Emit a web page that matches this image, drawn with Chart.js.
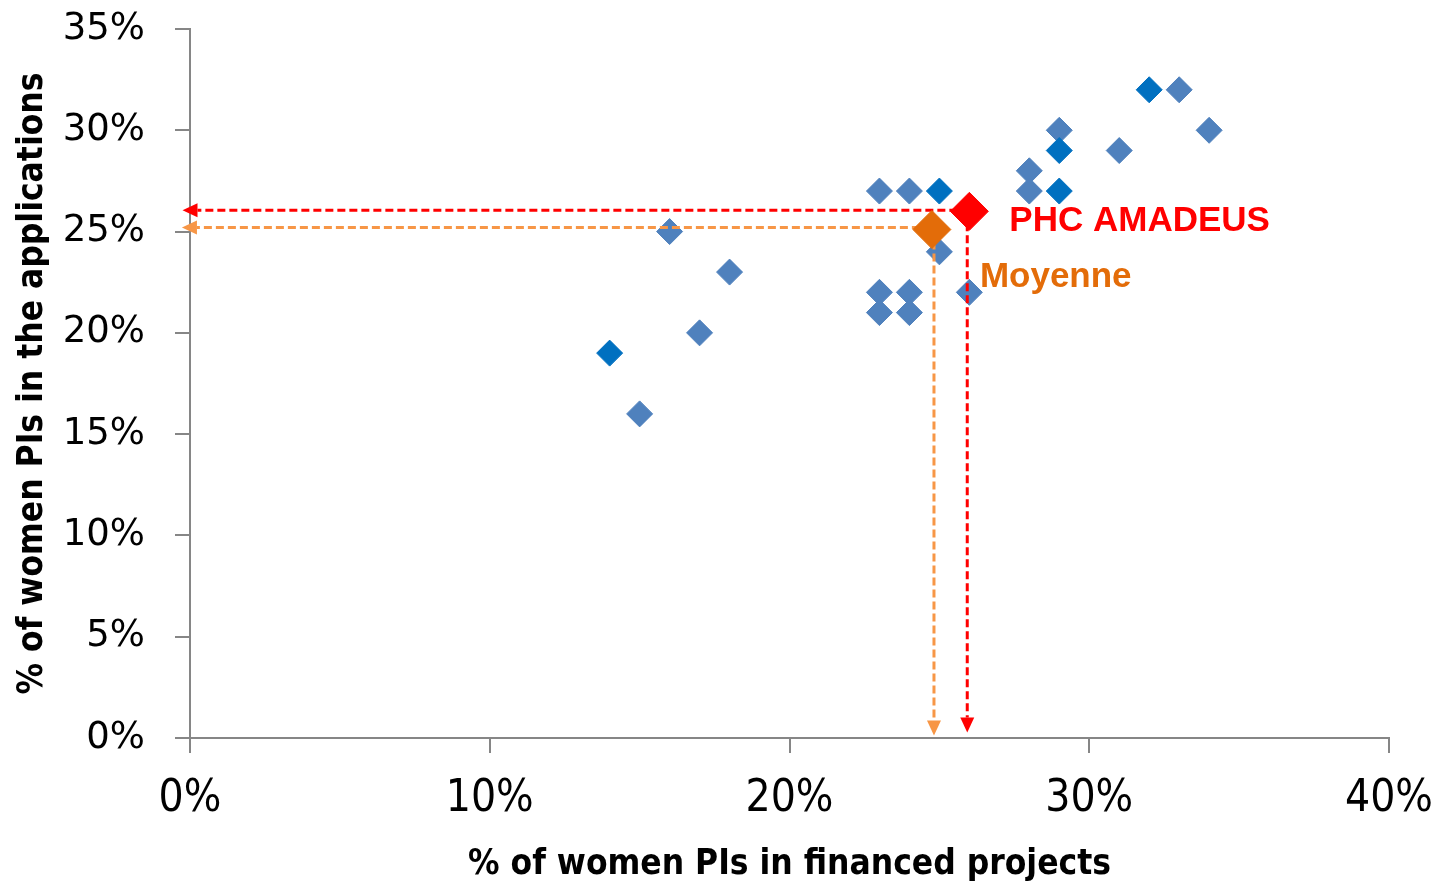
<!DOCTYPE html>
<html><head><meta charset="utf-8">
<script src="https://cdn.jsdelivr.net/npm/chart.js@4/dist/chart.umd.min.js"></script>
<style>html,body{margin:0;padding:0;background:#fff;overflow:hidden}#wrap{width:1435px;height:883px}</style>
</head><body><div id="wrap"><canvas id="c" width="1435" height="883"></canvas></div>
<script>
// ---- data ----
const xTickValues = [0, 10, 20, 30, 40];
const yTickValues = [0, 5, 10, 15, 20, 25, 30, 35];
const lightX = [15, 16, 17, 18, 23, 24, 23, 24, 23, 24, 25, 26, 28, 28, 29, 31, 33, 34];
const lightY = [16, 25, 20, 23, 27, 27, 22, 22, 21, 21, 24, 22, 28, 27, 30, 29, 32, 30];
const darkX = [14, 25, 29, 29, 32];
const darkY = [19, 27, 29, 27, 32];
const amadeusX = [26];
const amadeusY = [26];
const moyenneX = [24.75];
const moyenneY = [25.1];
// guide arrows: [fromX, fromY, toX, toY]
const redArrowH = [26, 26.05, -0.25, 26.05];
const redArrowV = [25.93, 26, 25.93, 0.27];
const orangeArrowH = [24.75, 25.2, -0.27, 25.2];
const orangeArrowV = [24.82, 25.1, 24.82, 0.12];
const xTitle = '% of women PIs in financed projects';
const yTitle = '% of women PIs in the applications';
const labelAmadeus = 'PHC AMADEUS';
const labelMoyenne = 'Moyenne';

const toPts = (xs, ys) => xs.map((x, i) => ({x, y: ys[i]}));

const BLUE = '#4F81BD', DARKBLUE = '#0070C0', RED = '#FF0000', ORANGE = '#E36C09', ORANGE_LIGHT = '#F79646', GRAY = '#868686';
const NARROW = '"Liberation Sans Narrow", "DejaVu Sans Condensed", sans-serif';

function drawArrow(ctx, chart, a, color) {
  const xs = chart.scales.x, ys = chart.scales.y;
  const x1 = xs.getPixelForValue(a[0]), y1 = ys.getPixelForValue(a[1]);
  const x2 = xs.getPixelForValue(a[2]), y2 = ys.getPixelForValue(a[3]);
  const ang = Math.atan2(y2 - y1, x2 - x1);
  const L = 15, W = 7;
  const bx = x2 - Math.cos(ang) * L, by = y2 - Math.sin(ang) * L;
  ctx.save();
  ctx.strokeStyle = color; ctx.lineWidth = 3; ctx.setLineDash([8, 4]);
  ctx.beginPath(); ctx.moveTo(x1, y1); ctx.lineTo(bx, by); ctx.stroke();
  ctx.setLineDash([]);
  ctx.fillStyle = color;
  ctx.beginPath();
  ctx.moveTo(x2, y2);
  ctx.lineTo(bx + Math.sin(ang) * W, by - Math.cos(ang) * W);
  ctx.lineTo(bx - Math.sin(ang) * W, by + Math.cos(ang) * W);
  ctx.closePath(); ctx.fill();
  ctx.restore();
}

const guidePlugin = {
  id: 'guides',
  beforeDatasetDraw(chart, args) {
    if (args.index !== 1) return;
    const ctx = chart.ctx;
    drawArrow(ctx, chart, orangeArrowH, ORANGE_LIGHT);
    drawArrow(ctx, chart, orangeArrowV, ORANGE_LIGHT);
    drawArrow(ctx, chart, redArrowH, RED);
    drawArrow(ctx, chart, redArrowV, RED);
  },
  afterDatasetsDraw(chart) {
    const ctx = chart.ctx, xs = chart.scales.x, ys = chart.scales.y;
    ctx.save();
    ctx.font = 'bold 35px "Liberation Sans", Arial, sans-serif';
    ctx.textBaseline = 'alphabetic'; ctx.textAlign = 'left';
    ctx.fillStyle = RED;
    ctx.fillText(labelAmadeus, xs.getPixelForValue(amadeusX[0]) + 40, ys.getPixelForValue(amadeusY[0]) + 20);
    ctx.fillStyle = ORANGE;
    ctx.fillText(labelMoyenne, xs.getPixelForValue(moyenneX[0]) + 48, ys.getPixelForValue(moyenneY[0]) + 57);
    ctx.restore();
  }
};

new Chart(document.getElementById('c'), {
  type: 'scatter',
  data: {
    datasets: [
      {label: labelAmadeus, data: toPts(amadeusX, amadeusY), pointStyle: 'rectRot', pointRadius: 19, pointHoverRadius: 19,
       backgroundColor: RED, borderColor: RED, borderWidth: 1},
      {label: labelMoyenne, data: toPts(moyenneX, moyenneY), pointStyle: 'rectRot', pointRadius: 19, pointHoverRadius: 19,
       backgroundColor: ORANGE, borderColor: ORANGE, borderWidth: 1},
      {label: 'dark', data: toPts(darkX, darkY), pointStyle: 'rectRot', pointRadius: 13, pointHoverRadius: 13,
       backgroundColor: DARKBLUE, borderColor: DARKBLUE, borderWidth: 1},
      {label: 'light', data: toPts(lightX, lightY), pointStyle: 'rectRot', pointRadius: 13, pointHoverRadius: 13,
       backgroundColor: BLUE, borderColor: BLUE, borderWidth: 1}
    ]
  },
  options: {
    responsive: false, animation: false,
    layout: {padding: {top: 29, right: 46, left: 0, bottom: 0}},
    plugins: {legend: {display: false}, tooltip: {enabled: false}},
    scales: {
      x: {
        type: 'linear', min: 0, max: 40, position: 'bottom',
        afterBuildTicks: s => { s.ticks = xTickValues.map(v => ({value: v})); },
        afterFit: s => { s.height = 145; s.paddingLeft = 0; s.paddingRight = 0; },
        ticks: {callback: v => v + '%', color: '#000', padding: 20,
                font: {family: NARROW, size: 44}},
        grid: {drawOnChartArea: false, drawTicks: true, tickLength: 15, color: GRAY, lineWidth: 2},
        border: {color: GRAY, width: 2},
        title: {display: true, text: xTitle, color: '#000', padding: {top: 0, bottom: 1},
                font: {family: NARROW, size: 35, weight: 'bold', lineHeight: 1.0}}
      },
      y: {
        type: 'linear', min: 0, max: 35,
        afterBuildTicks: s => { s.ticks = yTickValues.map(v => ({value: v})); },
        afterFit: s => { s.width = 190; s.paddingTop = 0; s.paddingBottom = 0; },
        ticks: {callback: v => v + '%', color: '#000', padding: 30,
                font: {family: '"DejaVu Sans", Verdana, sans-serif', size: 37}},
        grid: {drawOnChartArea: false, drawTicks: true, tickLength: 15, color: GRAY, lineWidth: 2},
        border: {color: GRAY, width: 2},
        title: {display: true, text: yTitle, color: '#000', padding: {top: 15, bottom: 0},
                font: {family: NARROW, size: 35, weight: 'bold', lineHeight: 1.0}}
      }
    }
  },
  plugins: [guidePlugin]
});
</script>
</body></html>
